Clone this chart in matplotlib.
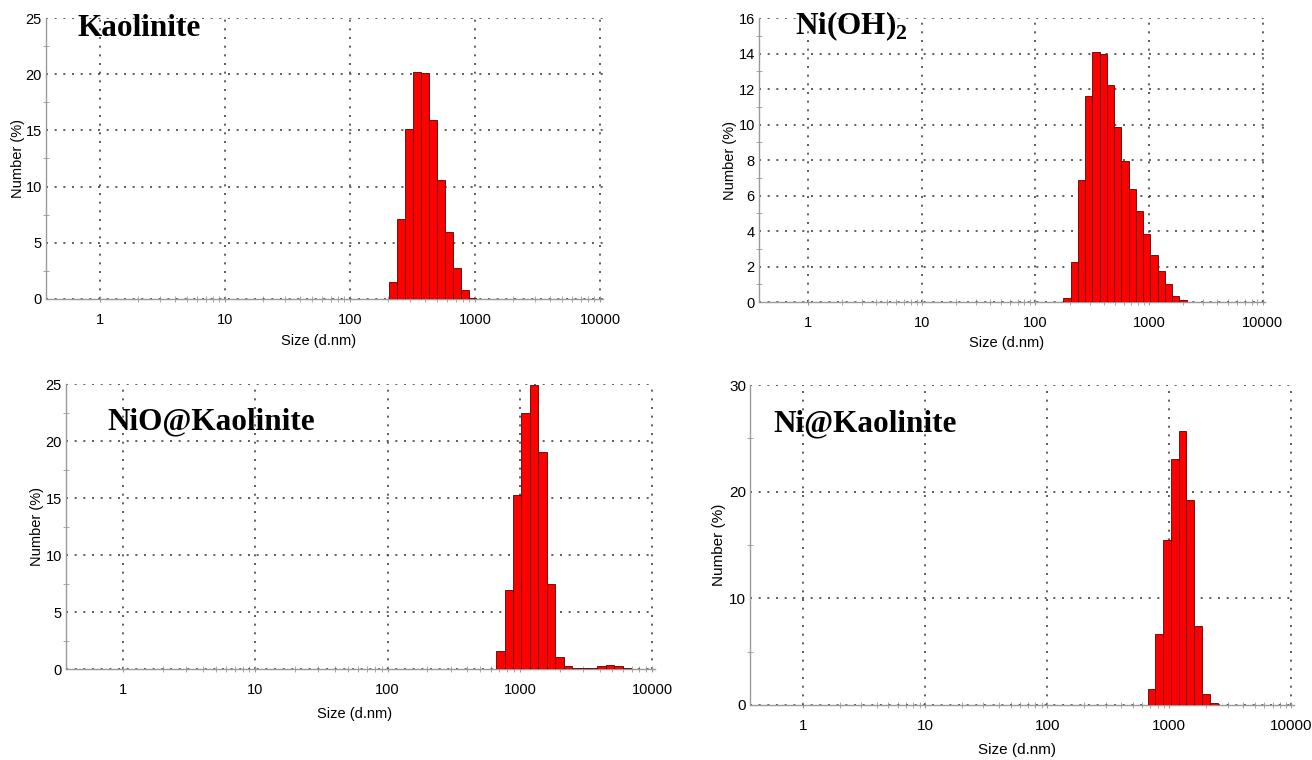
import matplotlib
matplotlib.use('Agg')
import matplotlib.pyplot as plt
import numpy as np

plt.rcParams['font.family'] = 'Liberation Sans'
plt.rcParams['mathtext.fontset'] = 'custom'
plt.rcParams['mathtext.rm'] = 'Liberation Serif:bold'
plt.rcParams['mathtext.bf'] = 'Liberation Serif:bold'

# size classes (d.nm) and number distributions
kaolinite_size = [220.2, 255.0, 295.3, 342.0, 396.1, 458.7, 531.2, 615.1, 712.4, 825.0, 955.4]
kaolinite_num = [1.55, 7.15, 15.1, 20.2, 20.1, 15.9, 10.55, 5.97, 2.73, 0.8, 0.13]

nioh_size = [190.1, 220.2, 255.0, 295.3, 342.0, 396.1, 458.7, 531.2, 615.1, 712.4,
             825.0, 955.4, 1106, 1281, 1484, 1718, 1990]
nioh_num = [0.24, 2.28, 6.85, 11.6, 14.1, 14.0, 12.2, 9.87, 7.92, 6.38,
            5.1, 3.82, 2.66, 1.74, 0.99, 0.33, 0.1]

nio_size = [712.4, 825.0, 955.4, 1106, 1281, 1484, 1718, 1990, 2305, 2669,
            3091, 3580, 4145, 4801, 5560, 6439]
nio_num = [1.54, 6.97, 15.3, 22.45, 24.95, 19.0, 7.45, 1.05, 0.26, 0.09,
           0.09, 0.09, 0.26, 0.38, 0.26, 0.09]

ni_size = [712.4, 825.0, 955.4, 1106, 1281, 1484, 1718, 1990, 2305]
ni_num = [1.47, 6.7, 15.5, 23.05, 25.7, 19.2, 7.4, 1.0, 0.15]

# log step between size classes
step = (10000 / 0.4) ** (1 / 69)

fig = plt.figure(figsize=(13.12, 7.6), dpi=100)


def panel(rect, sizes, nums, ymax, ymajor, name, name_xy, ylab_x, xlab_y, fs=10.5):
    ax = fig.add_axes(rect)
    s = np.array(sizes)
    left = s / np.sqrt(step)
    ax.bar(left, nums, width=s * np.sqrt(step) - left, align='edge',
           color='#ff0000', edgecolor='#5a0000', linewidth=0.6, zorder=3)
    ax.set_xscale('log')
    ax.set_xlim(0.37, 10500)
    ax.set_ylim(0, ymax)
    ax.set_xticks([1, 10, 100, 1000, 10000])
    ax.set_xticklabels(['1', '10', '100', '1000', '10000'])
    minors = [m * 10 ** d for d in range(0, 4) for m in range(2, 10)]
    ax.set_xticks(minors, minor=True)
    ax.set_yticks(np.arange(0, ymax + 0.1, ymajor))
    ax.set_yticks(np.arange(ymajor / 2, ymax, ymajor), minor=True)
    ax.tick_params(axis='x', which='both', direction='inout', length=4,
                   color='#9a9a9a', labelsize=fs, pad=8)
    ax.tick_params(axis='y', which='both', direction='inout', length=4,
                   color='#9a9a9a', labelsize=fs, pad=1)
    ax.tick_params(axis='y', which='major', length=0, pad=3)
    ax.grid(True, which='major', linestyle=(0, (1.2, 4)), linewidth=1.2, color='#444444')
    ax.set_axisbelow(True)
    for side in ['top', 'right']:
        ax.spines[side].set_visible(False)
    for side in ['left', 'bottom']:
        ax.spines[side].set_color('#9a9a9a')
        ax.spines[side].set_linewidth(1)
    ax.set_ylabel('Number (%)', fontsize=fs, va='center')
    ax.yaxis.set_label_coords(ylab_x, 0.5)
    ax.set_xlabel('Size (d.nm)', fontsize=fs, va='center')
    ax.xaxis.set_label_coords(0.49, xlab_y)
    fig.text(name_xy[0] / 1312, 1 - name_xy[1] / 760, name, family='Liberation Serif',
             fontweight='bold', fontsize=22.5, va='center', ha='left')
    return ax


panel([0.0351, 0.6066, 0.4242, 0.3697], kaolinite_size, kaolinite_num, 25, 5,
      'Kaolinite', (78, 28), -0.051, -0.149)
panel([0.5785, 0.6026, 0.3857, 0.3737], nioh_size, nioh_num, 16, 2,
      'Ni(OH)$_2$', (795, 26), -0.057, -0.145)
panel([0.0503, 0.1197, 0.4489, 0.3750], nio_size, nio_num, 25, 5,
      'NiO@Kaolinite', (107, 422), -0.049, -0.158)
panel([0.5720, 0.0724, 0.4143, 0.4210], ni_size, ni_num, 30, 10,
      'Ni@Kaolinite', (773, 424), -0.057, -0.140, fs=11)

fig.savefig('out.png', dpi=100)
